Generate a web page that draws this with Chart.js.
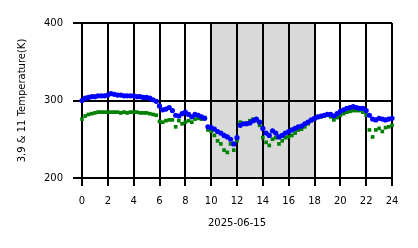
<!DOCTYPE html>
<html>
<head>
<meta charset="utf-8">
<script src="https://cdn.jsdelivr.net/npm/chart.js@4/dist/chart.umd.min.js"></script>
<style>
  html, body { margin: 0; padding: 0; background: #ffffff; }
  canvas { display: block; }
</style>
</head>
<body>
<canvas id="c" width="418" height="248"></canvas>
<script>
// Hours of day (UTC), every 15 min
const hours = [
  0,0.25,0.5,0.75,1,1.25,1.5,1.75,2,2.25,2.5,2.75,3,3.25,3.5,3.75,4,4.25,4.5,4.75,
  5,5.25,5.5,5.75,6,6.25,6.5,6.75,7,7.25,7.5,7.75,8,8.25,8.5,8.75,9,9.25,9.5,9.75,
  10,10.25,10.5,10.75,11,11.25,11.5,11.75,12,12.25,12.5,12.75,13,13.25,13.5,13.75,
  14,14.25,14.5,14.75,15,15.25,15.5,15.75,16,16.25,16.5,16.75,17,17.25,17.5,17.75,
  18,18.25,18.5,18.75,19,19.25,19.5,19.75,20,20.25,20.5,20.75,21,21.25,21.5,21.75,
  22,22.25,22.5,22.75,23,23.25,23.5,23.75,24
];
// 3.9 um brightness temperature (K)
const t39 = [
  300,303,304,305,305,306,306,306,307,309,308,307,307,306,306,306,306,305,305,304,
  304,303,301,299,293,288,289,291,287,281,280,283,285,282,279,282,281,279,277,266,
  265,263,260,258,255,253,250,244,252,268,270,270,271,274,276,272,
  264,258,255,261,258,253,255,258,260,262,264,266,267,270,272,275,
  277,279,280,281,282,282,280,283,286,288,290,291,292,291,290,290,
  287,281,276,275,277,276,275,276,277
];
// 11 um brightness temperature (K)
const t11 = [
  276,280,282,283,284,285,285,285,285,285,285,285,284,285,284,285,285,285,284,284,
  284,283,282,281,273,272,274,275,275,266,274,270,272,274,272,276,277,276,278,262,
  260,255,248,244,236,233,244,236,248,272,270,271,274,276,274,268,
  252,246,242,250,252,244,248,252,253,255,258,262,263,266,270,274,
  276,278,279,280,281,279,275,278,281,283,285,286,287,287,287,285,
  281,262,253,262,264,260,265,266,268
];
const xTicks = [0,2,4,6,8,10,12,14,16,18,20,22,24];
const yTicks = [200,300,400];
const daySpan = [10, 18];
const dateLabel = '2025-06-15';
const yTitle = '3.9 & 11 Temperature(K)';

const shade = {
  id: 'shade',
  beforeDraw(chart) {
    const {ctx, chartArea, scales} = chart;
    const x0 = scales.x.getPixelForValue(daySpan[0]);
    const x1 = scales.x.getPixelForValue(daySpan[1]);
    ctx.save();
    ctx.fillStyle = '#d9d9d9';
    ctx.fillRect(x0, chartArea.top, x1 - x0, chartArea.bottom - chartArea.top);
    ctx.restore();
  }
};

const font = { family: 'DejaVu Sans', size: 10 };

new Chart(document.getElementById('c'), {
  type: 'scatter',
  data: {
    datasets: [
      {
        label: '3.9',
        data: hours.map((h, i) => ({x: h, y: t39[i]})),
        backgroundColor: '#0000ff',
        borderWidth: 0,
        pointStyle: 'circle',
        pointRadius: 2.6,
        clip: false
      },
      {
        label: '11',
        data: hours.map((h, i) => ({x: h, y: t11[i]})),
        backgroundColor: '#008000',
        borderWidth: 0,
        pointStyle: 'rect',
        pointRadius: 2.6,
        clip: false
      }
    ]
  },
  options: {
    responsive: false,
    animation: false,
    devicePixelRatio: 1,
    layout: { padding: { top: 23, right: 26, left: 0, bottom: 0 } },
    plugins: { legend: { display: false }, tooltip: { enabled: false } },
    scales: {
      x: {
        type: 'linear', min: 0, max: 24,
        afterFit(s) { s.height = 70; },
        afterBuildTicks(s) { s.ticks = xTicks.map(v => ({value: v})); },
        ticks: { font, color: '#000', padding: 9, maxRotation: 0, autoSkip: false },
        grid: { color: '#000', lineWidth: 2, tickLength: 8, tickColor: '#000', tickWidth: 2 },
        border: { color: '#000', width: 2 },
        title: { display: true, text: dateLabel, font, color: '#000', padding: { top: 0, bottom: 19 } }
      },
      y: {
        type: 'linear', min: 200, max: 400,
        afterFit(s) { s.width = 82; },
        afterBuildTicks(s) { s.ticks = yTicks.map(v => ({value: v})); },
        ticks: { font, color: '#000', padding: 10 },
        grid: { color: '#000', lineWidth: 2, tickLength: 9, tickColor: '#000', tickWidth: 2 },
        border: { color: '#000', width: 2 },
        title: { display: true, text: yTitle, font, color: '#000', padding: { top: 16, bottom: 0 } }
      }
    }
  },
  plugins: [shade]
});
</script>
</body>
</html>
